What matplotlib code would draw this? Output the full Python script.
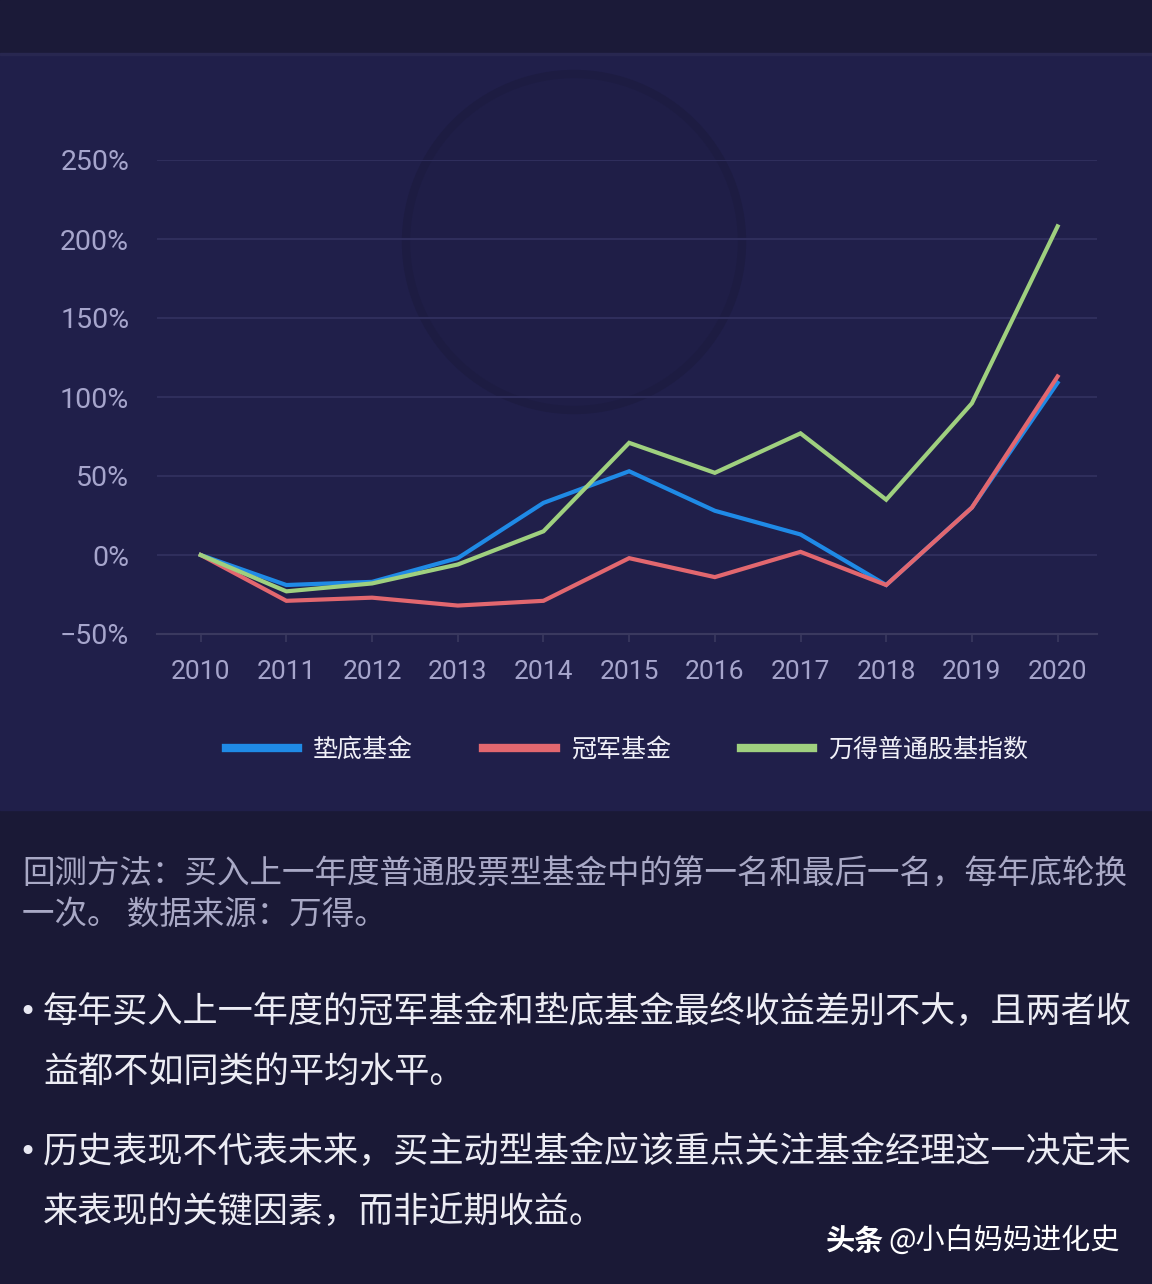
import matplotlib
matplotlib.use('Agg')
import matplotlib.pyplot as plt
from matplotlib.patches import Rectangle, Ellipse
from matplotlib.ticker import FuncFormatter

plt.rcParams['font.family'] = ['Noto Sans CJK SC', 'DejaVu Sans']

years = [2010, 2011, 2012, 2013, 2014, 2015, 2016, 2017, 2018, 2019, 2020]
dibu = [0, -19, -17, -2, 33, 53, 28, 13, -19, 30, 109]        # 垫底基金
guanjun = [0, -29, -27, -32, -29, -2, -14, 2, -19, 30, 113]   # 冠军基金
wande = [0, -23, -18, -6, 15, 71, 52, 77, 35, 96, 208]        # 万得普通股基指数
names = ['垫底基金', '冠军基金', '万得普通股基指数']
colors = ['#1f8ae6', '#e2676f', '#9fd07f']
yticks = [-50, 0, 50, 100, 150, 200, 250]

W, H = 1152, 1284
fig = plt.figure(figsize=(W / 100, H / 100), dpi=100)
fig.patch.set_facecolor('#1a1936')

# фоновые полосы
fig.patches.append(Rectangle((0, 1 - 53 / H), 1, 53 / H, transform=fig.transFigure,
                             color='#1b1a38', zorder=-5))
fig.patches.append(Rectangle((0, 1 - 810 / H), 1, (810 - 54) / H, transform=fig.transFigure,
                             color='#201f4a', zorder=-5))
fig.patches.append(Rectangle((0, 1 - 55 / H), 1, 2 / H, transform=fig.transFigure,
                             color='#282750', zorder=-5))
# водяной знак (круг)
fig.patches.append(Ellipse((574 / W, 1 - 242 / H), 336 / W, 336 / H, transform=fig.transFigure,
                           facecolor='#1f1e47', edgecolor='#1d1c42', lw=6, zorder=-4))

ax = fig.add_axes([157 / W, 1 - 634 / H, (1097 - 157) / W, (634 - 160) / H])
ax.set_facecolor('none')
ax.set_zorder(1)

for vals, c, n in zip([dibu, guanjun, wande], colors, names):
    ax.plot(years, vals, color=c, lw=3, label=n, zorder=3, solid_joinstyle='miter')

ax.set_xlim(2009.49, 2020.46)
ax.set_ylim(-50, 250)
ax.set_yticks(yticks)
ax.set_xticks(years)
ax.yaxis.set_major_formatter(FuncFormatter(lambda v, p: f'{v:.0f}%'.replace('-', '−')))
ax.grid(axis='y', color='#2f2e5c', lw=1.5, zorder=1)
for s in ['top', 'right', 'left']:
    ax.spines[s].set_visible(False)
ax.spines['bottom'].set_color('#3a395f')
ax.spines['bottom'].set_linewidth(1.5)
ax.tick_params(axis='y', length=0, pad=20, labelsize=20.5, labelcolor='#a6a5cc')
ax.tick_params(axis='x', length=6, width=1.2, color='#3a395f', pad=13,
               labelsize=19, labelcolor='#a6a5cc')
for lab in ax.get_xticklabels() + ax.get_yticklabels():
    lab.set_family(['Roboto', 'DejaVu Sans'])

leg = ax.legend(loc='center', bbox_to_anchor=(0.5, (634 - 750) / (634 - 160)), ncol=3,
                frameon=False, fontsize=18, handlelength=2.9, handletextpad=0.6,
                columnspacing=2.8, labelcolor='#f0f0f8')
for line in leg.get_lines():
    line.set_linewidth(6)

# текст под графиком
fig.text(22 / W, 1 - 875 / H, '回测方法：买入上一年度普通股票型基金中的第一名和最后一名，每年底轮换',
         fontsize=23.4, color='#a9a9c6', va='center')
fig.text(22 / W, 1 - 915 / H, '一次。 数据来源：万得。', fontsize=23.4, color='#a9a9c6', va='center')

bullets = [
    ('每年买入上一年度的冠军基金和垫底基金最终收益差别不大，且两者收', '益都不如同类的平均水平。', 1012),
    ('历史表现不代表未来，买主动型基金应该重点关注基金经理这一决定未', '来表现的关键因素，而非近期收益。', 1152),
]
for l1, l2, y in bullets:
    fig.text(27 / W, 1 - y / H, '•', fontsize=22, color='#e8e8f2', va='center', ha='center',
             family='DejaVu Sans')
    fig.text(43 / W, 1 - y / H, l1, fontsize=25.3, color='#ececf4', va='center')
    fig.text(43 / W, 1 - (y + 60) / H, l2, fontsize=25.3, color='#ececf4', va='center')

fig.text(826 / W, 1 - 1241 / H, '头条', fontsize=21, color='white', va='center', weight='bold')
fig.text(888 / W, 1 - 1241 / H, '@小白妈妈进化史', fontsize=21, color='white', va='center')

fig.savefig('out.png', dpi=100, facecolor=fig.get_facecolor())
